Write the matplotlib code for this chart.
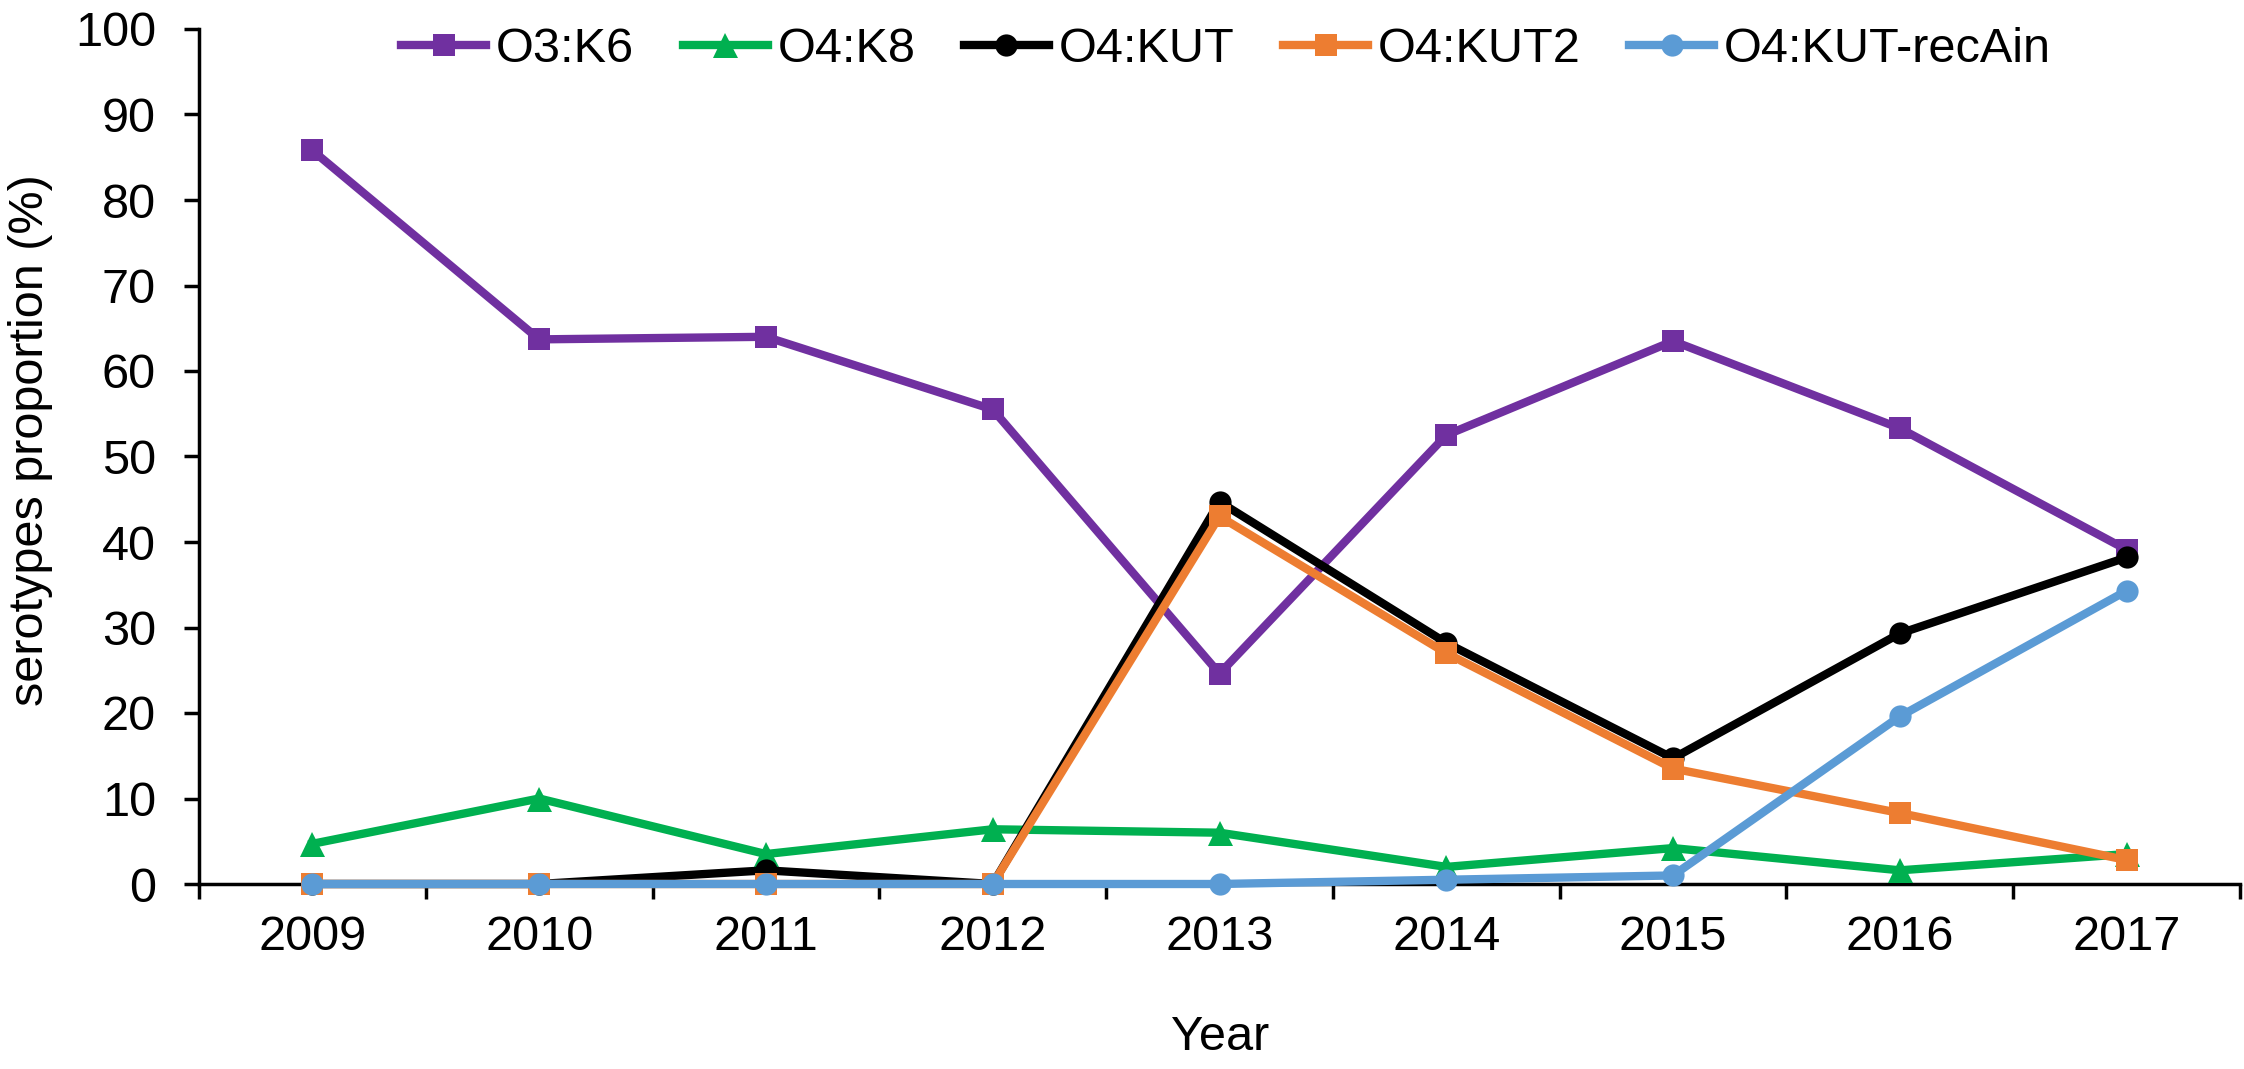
import matplotlib
matplotlib.use("Agg")
import matplotlib.pyplot as plt
from matplotlib.ticker import FixedLocator, NullFormatter

years = ["2009", "2010", "2011", "2012", "2013", "2014", "2015", "2016", "2017"]
o3_k6 = [85.8, 63.7, 64.0, 55.5, 24.6, 52.5, 63.5, 53.3, 39.1]
o4_k8 = [4.7, 10.0, 3.5, 6.4, 6.0, 2.0, 4.2, 1.6, 3.5]
o4_kut = [0, 0, 1.6, 0, 44.7, 28.2, 14.7, 29.3, 38.2]
o4_kut2 = [0, 0, 0, 0, 43.0, 27.0, 13.5, 8.3, 2.8]
o4_kut_recain = [0, 0, 0, 0, 0, 0.5, 1.0, 19.6, 34.3]
series_names = ["O3:K6", "O4:K8", "O4:KUT", "O4:KUT2", "O4:KUT-recAin"]
y_ticks = list(range(0, 101, 10))

plt.rcParams['font.family'] = ['Liberation Sans', 'DejaVu Sans']
FS = 35

fig = plt.figure(figsize=(22.44, 10.69), dpi=100)
ax = fig.add_axes([199/2244, 185/1069, (2240-199)/2244, (884-29)/1069])

x = list(range(len(years)))
styles = [
    (o3_k6, "#7030A0", "s", 16),
    (o4_k8, "#00B050", "^", 18),
    (o4_kut, "#000000", "o", 16),
    (o4_kut2, "#ED7D31", "s", 16),
    (o4_kut_recain, "#5B9BD5", "o", 16),
]
handles = []
for i, ((vals, col, mk, ms), name) in enumerate(zip(styles, series_names)):
    h, = ax.plot(x, vals, color=col, marker=mk, markersize=ms, linewidth=6,
                 markeredgewidth=0, label=name, clip_on=False, zorder=3 + i)
    handles.append(h)

ax.set_xlim(-0.5, len(years) - 0.5)
ax.set_ylim(0, 100)

for s in ["top", "right"]:
    ax.spines[s].set_visible(False)
for s in ["left", "bottom"]:
    ax.spines[s].set_linewidth(2.5)
    ax.spines[s].set_zorder(2)

ax.xaxis.set_major_locator(FixedLocator([i - 0.5 for i in range(len(years) + 1)]))
ax.xaxis.set_major_formatter(NullFormatter())
ax.set_xticks(x, labels=years, minor=True)
ax.tick_params(axis="x", which="major", direction="out", length=11, width=2.5)
ax.tick_params(axis="x", which="minor", length=0, pad=22, labelsize=FS)

ax.set_yticks(y_ticks)
ax.tick_params(axis="y", which="major", direction="out", length=11, width=2.5,
               pad=20, labelsize=FS)

fig.text(31/2244, 1 - 440/1069, "serotypes proportion (%)", rotation=90,
         ha="center", va="center", fontsize=FS)
fig.text(1220/2244, 1 - 1037/1069, "Year", ha="center", va="center", fontsize=FS)

leg = fig.legend(handles=handles, loc="center left",
                 bbox_to_anchor=(401/2244, 1 - 50/1069), ncol=5, frameon=False,
                 fontsize=FS, handlelength=1.75, handletextpad=0.2,
                 columnspacing=1.0, borderpad=0, borderaxespad=0)

fig.savefig("out.png", dpi=100)
